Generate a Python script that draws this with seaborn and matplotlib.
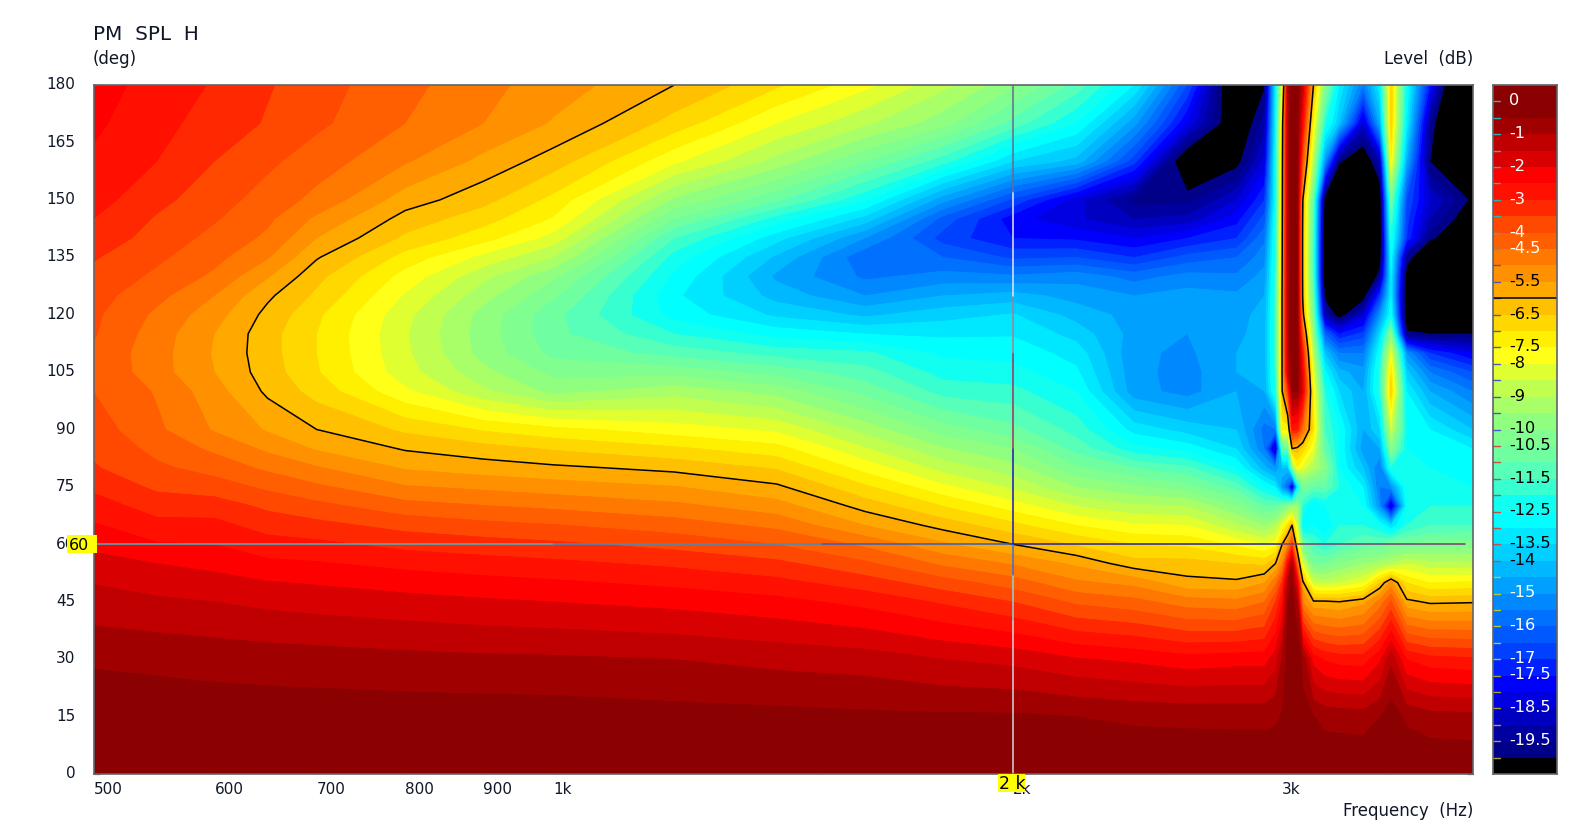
import numpy as np
import matplotlib
matplotlib.use("Agg")
import matplotlib.pyplot as plt
from matplotlib.colors import ListedColormap, BoundaryNorm
from matplotlib.patches import Rectangle
from matplotlib.transforms import ScaledTranslation
import seaborn as sns

angles = [0,15,30,45,50,55,60,65,70,75,80,85,90,100,105,110,115,120,125,130,135,140,145,150,160,170,180]
freqs = [500,550,600,650,700,800,900,1000,1200,1400,1600,1800,2000,2200,2400,2600,2800,
         2920,2970,3000,3025,3045,3070,3095,3145,3200,3270,3390,3475,3535,3620,3750,4000]

l0500 = [0,-.15,-.57,-1.3,-1.52,-1.82,-2.12,-2.44,-2.78,-3.1,-3.45,-3.6,-3.75,-4,-4.05,-4.1,-3.95,-3.9,-3.8,-3.65,-3.45,-3.2,-3,-2.8,-2.58,-2.4,-2.28]
l0550 = [0,-.18,-.63,-1.42,-1.68,-2,-2.45,-2.85,-3.2,-3.6,-3.9,-4.15,-4.4,-4.55,-4.8,-4.8,-4.75,-4.6,-4.35,-4.1,-3.9,-3.7,-3.55,-3.35,-3,-2.85,-2.7]
l0600 = [0,-.2,-.7,-1.5,-1.8,-2.15,-2.5,-2.85,-3.25,-3.75,-4.2,-4.6,-5.05,-5.3,-5.5,-5.55,-5.5,-5.3,-5,-4.6,-4.35,-4.15,-3.95,-3.8,-3.5,-3.2,-3.05]
l0650 = [0,-.21,-.75,-1.62,-1.97,-2.38,-2.8,-3.2,-3.6,-4.1,-4.6,-5.1,-5.55,-6.1,-6.25,-6.3,-6.3,-6.15,-5.9,-5.45,-4.95,-4.6,-4.4,-4.2,-3.9,-3.55,-3.45]
l0700 = [0,-.22,-.78,-1.7,-2.04,-2.45,-2.88,-3.35,-3.85,-4.4,-4.95,-5.55,-6,-6.7,-6.95,-7,-7,-6.9,-6.6,-6.35,-5.95,-5.5,-5.1,-4.65,-4.25,-3.9,-3.8]
l0800 = [0,-.23,-.85,-1.82,-2.2,-2.65,-3.15,-3.67,-4.3,-4.95,-5.55,-6.05,-6.6,-7.9,-8.3,-8.4,-8.45,-8.35,-8.05,-7.7,-7.2,-6.6,-6.2,-5.75,-4.95,-4.5,-4.35]
l0900 = [0,-.24,-.9,-1.92,-2.33,-2.78,-3.28,-3.85,-4.47,-5.1,-5.75,-6.3,-7.05,-8.9,-9.35,-9.7,-9.75,-9.7,-9.3,-8.85,-8.15,-7.3,-6.8,-6.33,-5.65,-5,-4.85]
l1000 = [0,-.25,-.92,-2,-2.42,-2.88,-3.4,-3.97,-4.6,-5.25,-5.9,-6.55,-7.35,-9.65,-10.15,-10.65,-10.85,-10.85,-10.4,-9.9,-9,-8.2,-7.55,-7.15,-6.25,-5.55,-5.25]
l1200 = [0,-.32,-1,-2.15,-2.62,-3.1,-3.66,-4.25,-4.87,-5.47,-6.15,-6.9,-7.75,-9.2,-10.2,-11.2,-12,-12.7,-12.9,-12.6,-12.2,-11.5,-10.5,-9.6,-7.9,-6.7,-6]
l1400 = [0,-.35,-1.15,-2.35,-2.85,-3.37,-4,-4.63,-5.27,-5.9,-6.55,-7.3,-8.1,-9.7,-10.7,-11.7,-12.7,-13.6,-14.2,-14.6,-14.1,-13.3,-12.2,-10.9,-9.2,-8,-6.9]
l1600 = [0,-.4,-1.25,-2.65,-3.25,-3.9,-4.6,-5.5,-6.2,-6.9,-7.7,-8.45,-9.2,-10.7,-11.3,-11.9,-13,-14.1,-15,-15.6,-15.9,-15,-13.7,-12.4,-10.5,-8.9,-7.85]
l1800 = [0,-.42,-1.5,-3.07,-3.77,-4.6,-5.4,-6.2,-7,-7.87,-8.7,-9.45,-10.25,-11.7,-12.2,-12.6,-13.1,-13.7,-14.5,-15.3,-16,-16.7,-16.2,-14.8,-11.8,-9.8,-8.85]
l2000 = [0,-.42,-1.65,-3.5,-4.25,-5.05,-6,-6.85,-7.75,-8.6,-9.3,-10,-10.85,-11.85,-12.3,-12.7,-13.05,-13.45,-14.3,-15.4,-16.6,-17.5,-17.8,-16.6,-13.5,-11.2,-9.9]
l2200 = [0,-.5,-1.95,-4.1,-4.9,-5.6,-6.55,-7.5,-8.5,-9.5,-10.4,-11.2,-11.7,-12.5,-12.9,-13.2,-13.7,-14.2,-14.7,-15.2,-16.5,-17.6,-18.4,-18.3,-14.2,-12.5,-11.2]
l2400 = [0,-.6,-2.1,-4.33,-5.15,-6.3,-7,-7.9,-8.9,-9.9,-11,-12.3,-13.2,-14.8,-14.85,-14.9,-14.7,-14.7,-15,-15.7,-17,-18,-19,-19.7,-16.8,-14.8,-13]
l2600 = [0,-.63,-2.3,-4.75,-5.85,-6.3,-7.1,-8,-9,-10.3,-11.4,-12.7,-13.7,-15.2,-15.2,-15.1,-15,-14.9,-14.8,-15.3,-16.3,-17.5,-18.8,-19.7,-21,-18,-16.5]
l2800 = [0,-.65,-2.2,-4.85,-5.9,-6.5,-7.6,-8.9,-10,-11.2,-12.5,-13.5,-14,-14.5,-14.5,-14.5,-14.6,-14.7,-14.9,-15.4,-16,-17,-17.7,-18.5,-20.3,-21,-21.5]
l2920 = [0,-.65,-2.2,-4.5,-5.5,-6.6,-8,-9.5,-11,-12.5,-14.3,-15.5,-15.7,-14.5,-14.3,-14.3,-14.3,-14.3,-14.5,-14.8,-15.2,-15.6,-16.3,-17,-18.3,-19.2,-20.1]
l2970 = [0,-.6,-1.7,-3.5,-4.6,-6,-7.7,-9,-11,-13,-15,-19,-15.5,-12,-11.8,-11.7,-11.7,-11.7,-11.8,-11.8,-11.9,-12,-12.2,-12.5,-12.5,-12.8,-13]
l3000 = [0,-.45,-.9,-2.5,-3.3,-5,-6,-8,-10.5,-15,-14,-11,-7.3,-6,-5.9,-5.9,-5.9,-5.9,-5.9,-6,-6.05,-6.1,-6.15,-6.2,-6.3,-6.5,-8]
l3025 = [0,-.1,-.35,-.5,-.9,-2.5,-5,-7,-10,-16,-14,-11,-7.5,-3.5,-1.5,-1.2,-1.1,-1,-1,-1,-1,-1,-1,-1,-1,-1,-1]
l3045 = [0,-.05,-.2,-.3,-.45,-.7,-3.5,-6,-9.5,-19,-10,-6,-2.8,-.5,-.3,-.2,-.15,-.1,-.1,-.1,-.1,-.1,-.1,-.1,-.1,-.1,-.1]
l3070 = [0,0,-.2,-.8,-2,-4.5,-7,-8.5,-9.5,-13,-7.5,-6.2,-3,-.5,-.3,-.2,-.2,-.2,-.25,-.3,-.3,-.3,-.3,-.3,-.2,-.2,-.2]
l3095 = [0,-.4,-.6,-5,-5.8,-8.3,-10.5,-13,-12,-10.5,-8.2,-6.7,-4.5,-2,-2.2,-2.8,-4.2,-5.7,-6.2,-6.3,-6.3,-6.3,-6.2,-6,-4,-2.5,-1.5]
l3145 = [0,-.48,-2.2,-5.9,-8.5,-10.5,-11.5,-12.5,-13,-11,-9,-8,-7,-7.5,-8.2,-9,-9.8,-10.5,-11,-11.5,-11.6,-11.5,-11.3,-11,-9,-7.5,-6]
l3200 = [0,-.67,-2.55,-5.9,-8.7,-10.5,-12,-13,-12.5,-11,-10,-11,-11.5,-12,-12.8,-14,-16,-19,-20.3,-21,-21,-21,-20.8,-20.5,-15,-12,-10]
l3270 = [0,-.7,-2.7,-6,-8.5,-10,-11.5,-12,-12,-12,-12.5,-12.5,-12.5,-13.5,-14.3,-15.5,-17.5,-20.5,-22,-23,-23,-23,-22.5,-22,-19.9,-14,-13]
l3390 = [0,-.75,-2.75,-5.65,-8,-9.5,-11,-12,-12.5,-13,-14,-14.8,-14.5,-14.5,-14.8,-15.5,-16.8,-18.5,-20.5,-22,-22.5,-23,-23,-23,-21,-18.5,-15.5]
l3475 = [0,-.5,-2.1,-4.8,-6.5,-9.2,-11,-12.5,-15,-15.5,-15.5,-14.5,-13.5,-12,-12,-12.5,-13.5,-15,-17,-19.5,-20.7,-21,-21,-21,-19,-14.5,-13]
l3535 = [0,-.25,-1.1,-3.9,-5.3,-9,-10.5,-13.5,-18.5,-15,-12,-10,-8.5,-6.5,-7,-8,-10,-12.5,-13,-13,-12.6,-12,-11.3,-10.5,-7.5,-6.5,-6.5]
l3620 = [0,-.6,-2.5,-5.85,-7,-8.5,-10.5,-12,-12.5,-12.3,-12.2,-12.5,-12.5,-13,-13.8,-15,-19.8,-21,-21,-20.6,-19.5,-17,-16.8,-16.5,-14.5,-13,-12.5]
l3750 = [0,-.8,-2.8,-6.1,-7.5,-8.8,-10.3,-11.5,-12,-12.3,-12.5,-12.7,-13,-14.5,-15.5,-17,-20,-23,-22.5,-22,-21.5,-19.8,-19,-18.5,-20,-19.5,-17.5]
l4000 = [0,-.85,-2.9,-6.05,-7.4,-8.9,-10.2,-11.5,-12,-12.5,-12.8,-13,-14,-15.5,-16.5,-18,-20,-22,-22.5,-23,-22,-21.5,-20.8,-20.2,-22,-24,-25]

level_columns = [l0500,l0550,l0600,l0650,l0700,l0800,l0900,l1000,l1200,l1400,l1600,l1800,l2000,l2200,l2400,l2600,l2800,
                 l2920,l2970,l3000,l3025,l3045,l3070,l3095,l3145,l3200,l3270,l3390,l3475,l3535,l3620,l3750,l4000]

band_colors = ["#a00000","#c00000","#d80000","#ff0000","#ff1000","#ff2800","#ff4800","#ff5f00","#ff7800","#ff9000",
               "#ffa800","#ffc000","#ffd800","#fff000","#ffff18","#e0ff30","#c0ff50","#a8ff68","#90ff80","#80ff90",
               "#70ffa0","#58ffb8","#38ffd0","#10fff0","#00ffff","#00e8ff","#00d0ff","#00b8ff","#00a0ff","#0088ff",
               "#0070ff","#0058ff","#0040ff","#0020ff","#0000ff","#0000e0","#0000c0","#0000a0","#000088"]
over_color = "#8b0000"
under_color = "#000000"

y_ticks = [0,15,30,45,60,75,90,105,120,135,150,165,180]
x_ticks = [500,600,700,800,900,1000,2000,3000]
x_labels = ["500","600","700","800","900","1k","2k","3k"]
x_minor = [1500,2500,3500]
bar_labels = [0,-1,-2,-3,-4,-4.5,-5.5,-6.5,-7.5,-8,-9,-10,-10.5,-11.5,-12.5,-13.5,-14,-15,-16,-17,-17.5,-18.5,-19.5]
cursor_freq = 2000
cursor_angle = 60
contour_db = -6

sns.set_theme(style="white")
plt.rcParams['font.family'] = ['DejaVu Sans']

W, H = 1578, 828
fig = plt.figure(figsize=(W/100, H/100), dpi=100, facecolor="white")
L, R, T, B = 93.5, 1473, 86, 775
ax = fig.add_axes([L/W, 1-B/H, (R-L)/W, (B-T)/H])
cax = fig.add_axes([1493/W, 1-B/H, 64/W, (B-T)/H])

levels = np.arange(-20, -0.25, 0.5)
cmap = ListedColormap(band_colors[::-1])
cmap.set_under(under_color)
cmap.set_over(over_color)
norm = BoundaryNorm(levels, cmap.N)

Z = np.column_stack(level_columns)
ax.contourf(freqs, angles, Z, levels=levels, cmap=cmap, norm=norm, extend="both", antialiased=False)
ax.contourf(freqs, angles, Z, levels=levels, cmap=cmap, norm=norm, extend="both", antialiased=True)
ax.contour(freqs, angles, Z, levels=[contour_db], colors="black", linewidths=1.1, linestyles="solid")

ax.set_xscale("log")
ax.set_xlim(500, 4000)
ax.set_ylim(0, 180)
ax.set_xticks(x_ticks)
ax.set_xticklabels(x_labels, ha="left", fontsize=11, color="#101828")
ax.set_xticks(x_minor, minor=True)
ax.set_xticklabels([], minor=True)
ax.set_yticks(y_ticks)
ax.set_yticklabels([str(v) for v in y_ticks], fontsize=11, color="#101828")
ax.tick_params(axis="both", which="both", direction="in", length=4, width=0.9, color="#707880",
               top=True, right=True, bottom=True, left=True)
ax.tick_params(axis="x", which="major", pad=5)
ax.tick_params(axis="y", which="major", pad=13)
up2 = ScaledTranslation(0, 2/72, fig.dpi_scale_trans)
for lbl in ax.get_yticklabels():
    lbl.set_transform(lbl.get_transform() + up2)
for s in ax.spines.values():
    s.set_color("#606468")
    s.set_linewidth(1.2)
    s.set_zorder(5)

# cursor cross-hair, coloured segment by segment as in the original
h_edges = [500, 1000, 1500, cursor_freq, 3000, 3950]
h_colors = ["#48b4c8", "#3a90c8", "#3060c0", "#2020a0", "#7c3c70"]
for i, c in enumerate(h_colors):
    ax.plot(h_edges[i:i+2], [cursor_angle, cursor_angle], color=c, lw=1.1, zorder=4)
v_edges = [0, 40, 52, 60, 85, 110, 125, 152, 180]
v_colors = ["#d0d8e0", "#90d0e8", "#3a70d8", "#1818c0", "#a03060", "#a08098", "#e8e8f0", "#6a6a88"]
for i, c in enumerate(v_colors):
    ax.plot([cursor_freq, cursor_freq], v_edges[i:i+2], color=c, lw=1.1, zorder=4)

# level scale
band_mids = np.arange(0.25, -20.5, -0.5)
sns.heatmap(band_mids.reshape(-1, 1), ax=cax, cmap=cmap, norm=norm, cbar=False,
            xticklabels=False, yticklabels=False, linewidths=0)
cax.set_ylim(len(band_mids), 0)
for s in cax.spines.values():
    s.set_visible(True)
    s.set_color("#606468")
    s.set_linewidth(1.2)
db_to_row = lambda d: 1 - 2*d
for d in np.arange(0, -20.25, -0.5):
    if d > -4.75:
        tc = "#30b0b8"
    elif d > -6.25:
        tc = "#6050b0"
    elif d > -10.25:
        tc = "#4858c8"
    elif d > -14.25:
        tc = "#c05048"
    elif d > -17.25:
        tc = "#b8c830"
    else:
        tc = "#b0a030"
    cax.plot([0, 0.11], [db_to_row(d)]*2, color=tc, lw=1.0)
cax.plot([0, 1], [db_to_row(contour_db)]*2, color="black", lw=1.1)
for d in bar_labels:
    c = "white" if (d >= -4.5 or d <= -15) else "black"
    cax.text(0.25, db_to_row(d) - 0.1, f"{d:g}", color=c, fontsize=11.6, va="center", ha="left")

def ftext(x, y, s, **kw):
    fig.text(x/W, 1-y/H, s, va="center", **kw)

ftext(93, 34, "PM  SPL  H", fontsize=14.4, color="#101828")
ftext(93, 59.5, "(deg)", fontsize=12, color="#101828")
ftext(1473, 59.5, "Level  (dB)", fontsize=12, ha="right", color="#101828")
ftext(1473, 811, "Frequency  (Hz)", fontsize=12, ha="right", color="#101828")
for x0, y0, w0, h0 in [(67, 536, 30, 18), (998, 775, 27, 18)]:
    fig.add_artist(Rectangle((x0/W, 1-(y0+h0)/H), w0/W, h0/H, transform=fig.transFigure,
                             fc="#ffff00", ec="none", zorder=5))
ftext(68.5, 545, "60", fontsize=11.4, color="black", zorder=6)
ftext(999, 784, "2 k", fontsize=12.5, color="black", zorder=6)

fig.savefig("out.png", dpi=100, facecolor="white")
